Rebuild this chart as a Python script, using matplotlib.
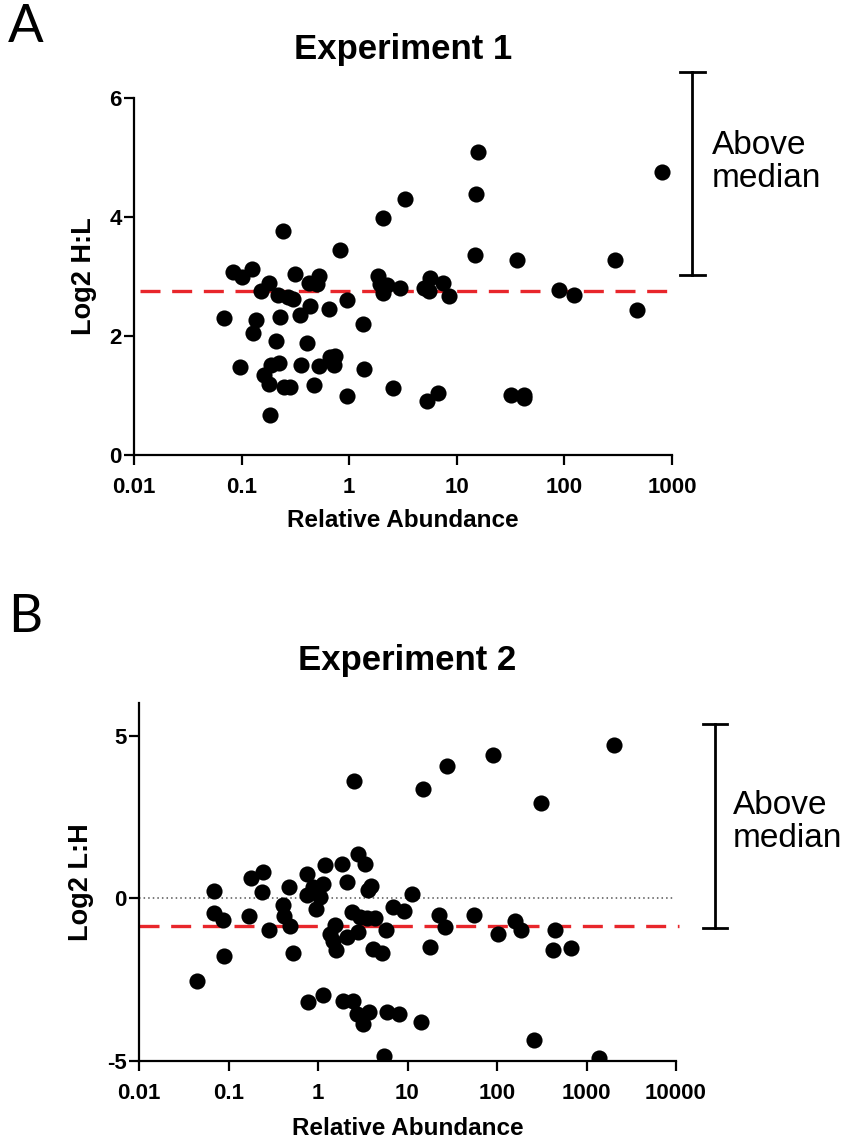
import matplotlib
matplotlib.use("Agg")
import matplotlib.pyplot as plt
from matplotlib.ticker import FixedLocator, FixedFormatter, NullLocator

plt.rcParams["axes.unicode_minus"] = False

# ---------------- data ----------------
exp1_abundance = [0.069, 0.084, 0.10, 0.126, 0.097, 0.136, 0.129, 0.152, 0.18, 0.16,
                  0.178, 0.187, 0.225, 0.184, 0.208, 0.242, 0.228, 0.22, 0.272, 0.303,
                  0.248, 0.283, 0.315, 0.35, 0.357, 0.434, 0.404, 0.466, 0.427, 0.52,
                  0.5, 0.525, 0.666, 0.74, 0.715, 0.656, 0.825, 0.95, 0.964, 1.33,
                  1.36, 2.08, 1.87, 1.95, 2.08, 2.25, 2.58, 3.31, 2.98, 5.3,
                  6.66, 5.0, 5.66, 5.5, 7.5, 8.4, 14.7, 15.1, 15.7, 31.6,
                  41.9, 41.9, 36.3, 89.8, 124, 294, 474, 811]
exp1_log2_hl = [2.30, 3.08, 2.99, 3.13, 1.48, 2.27, 2.05, 2.76, 2.89, 1.34,
                1.19, 1.51, 1.54, 0.67, 1.92, 3.76, 2.32, 2.69, 2.66, 2.63,
                1.14, 1.14, 3.05, 2.35, 1.51, 2.51, 1.89, 1.18, 2.89, 3.0,
                2.87, 1.50, 1.65, 1.66, 1.51, 2.45, 3.45, 2.60, 0.99, 2.21,
                1.45, 3.99, 3.0, 2.88, 2.72, 2.85, 1.12, 4.30, 2.80, 0.90,
                1.05, 2.80, 2.97, 2.75, 2.89, 2.67, 3.36, 4.38, 5.10, 1.01,
                1.01, 0.96, 3.28, 2.77, 2.69, 3.28, 2.44, 4.76]
exp1_median = 2.76

exp2_abundance = [0.044, 0.068, 0.069, 0.087, 0.09, 0.171, 0.18, 0.245, 0.239, 0.284,
                  0.41, 0.42, 0.474, 0.486, 0.53, 0.748, 0.78, 0.748, 0.887, 0.95,
                  1.05, 1.15, 1.2, 1.15, 1.36, 1.55, 1.48, 1.59, 1.84, 1.92,
                  2.09, 2.09, 2.38, 2.48, 2.54, 2.82, 3.35, 2.94, 2.82, 2.7,
                  3.2, 3.74, 3.65, 3.91, 3.5, 4.33, 4.15, 5.15, 5.75, 5.94,
                  5.46, 6.94, 8.0, 9.14, 11.1, 17.8, 22.6, 26.2, 15.0, 27.4,
                  14.2, 55.8, 89.5, 103, 159, 184, 261, 310, 445, 426,
                  671, 1390, 2050]
exp2_log2_lh = [-2.55, 0.22, -0.44, -0.68, -1.76, -0.56, 0.61, 0.81, 0.18, -0.99,
                -0.22, -0.56, 0.35, -0.85, -1.68, 0.76, -3.2, 0.09, 0.35, -0.32,
                0.04, 0.45, 1.02, -2.97, -1.09, -0.83, -1.30, -1.6, 1.04, -3.15,
                0.5, -1.19, -0.42, -3.15, 3.59, 1.36, 1.05, -0.58, -1.04, -3.56,
                -3.87, -3.5, 0.25, 0.38, -0.61, -0.6, -1.55, -1.69, -0.99, -3.48,
                -4.85, -0.27, -3.56, -0.39, 0.12, -1.50, -0.52, -0.88, 3.35, 4.07,
                -3.79, -0.52, 4.41, -1.09, -0.70, -0.96, -4.36, 2.94, -0.99, -1.58,
                -1.52, -4.9, 4.70]
exp2_median = -0.86

xticks1 = [0.01, 0.1, 1, 10, 100, 1000]
xticklabels1 = ["0.01", "0.1", "1", "10", "100", "1000"]
yticks1 = [0, 2, 4, 6]
xticks2 = [0.01, 0.1, 1, 10, 100, 1000, 10000]
xticklabels2 = ["0.01", "0.1", "1", "10", "100", "1000", "10000"]
yticks2 = [-5, 0, 5]

# ---------------- style ----------------
SANS = ["Liberation Sans", "DejaVu Sans"]
LETTER = ["Lato", "Open Sans", "DejaVu Sans"]
RED = "#e8262b"
W, H = 849, 1145

fig = plt.figure(figsize=(W / 100, H / 100), dpi=100)


def px_axes(left, top, right, bottom):
    return fig.add_axes([left / W, 1 - bottom / H, (right - left) / W, (bottom - top) / H])


def style(ax, xt, xtl, yt, xlab, ylab, xlabelpad):
    ax.set_xscale("log")
    ax.xaxis.set_major_locator(FixedLocator(xt))
    ax.xaxis.set_major_formatter(FixedFormatter(xtl))
    ax.xaxis.set_minor_locator(NullLocator())
    ax.set_yticks(yt)
    for s in ("top", "right"):
        ax.spines[s].set_visible(False)
    for s in ("left", "bottom"):
        ax.spines[s].set_linewidth(1.6)
    ax.tick_params(axis="both", direction="out", length=7, width=1.6)
    ax.tick_params(axis="x", pad=9)
    ax.tick_params(axis="y", pad=2)
    for lab in ax.get_xticklabels() + ax.get_yticklabels():
        lab.set_fontfamily(SANS)
        lab.set_fontweight("bold")
        lab.set_fontsize(16)
    ax.set_xlabel(xlab, fontfamily=SANS, fontweight="bold", fontsize=17.5, labelpad=xlabelpad)
    ax.set_ylabel(ylab, fontfamily=SANS, fontweight="bold", fontsize=19.5, labelpad=9)


# ---------- Panel A ----------
axA = px_axes(134, 98, 672, 455)
axA.scatter(exp1_abundance, exp1_log2_hl, s=135, color="black", zorder=3, linewidths=0)
axA.plot([0.0114, 1120], [exp1_median, exp1_median], color=RED, lw=2.4,
         dashes=(6, 3.5), clip_on=False, zorder=2)
axA.set_xlim(0.01, 1000)
axA.set_ylim(0, 6)
style(axA, xticks1, xticklabels1, yticks1, "Relative Abundance", "Log2 H:L", 8)
axA.set_title("Experiment 1", fontfamily=SANS, fontweight="bold", fontsize=25, pad=28)
# bracket
bx, cw = 1550, 10 ** 0.115
axA.plot([bx, bx], [3.02, 6.44], color="black", lw=2, clip_on=False)
axA.plot([bx / cw, bx * cw], [6.44, 6.44], color="black", lw=2, clip_on=False)
axA.plot([bx / cw, bx * cw], [3.02, 3.02], color="black", lw=2, clip_on=False)
fig.text(712 / W, 1 - 162 / H, "Above\nmedian", fontfamily=SANS, fontsize=24,
         ha="left", va="center", linespacing=1.12)
fig.text(8 / W, 1 - 4 / H, "A", fontfamily=LETTER, fontsize=38, ha="left", va="top")

# ---------- Panel B ----------
axB = px_axes(139, 703, 676, 1061)
axB.scatter(exp2_abundance, exp2_log2_lh, s=135, color="black", zorder=3, linewidths=0)
axB.plot([0.01, 9600], [0, 0], color="#555555", lw=1.1, ls=(0, (1, 2)), zorder=1)
axB.plot([0.01, 10700], [exp2_median, exp2_median], color=RED, lw=2.4,
         dashes=(6, 3.5), clip_on=False, zorder=2)
axB.set_xlim(0.01, 10000)
axB.set_ylim(-5, 6)
style(axB, xticks2, xticklabels2, yticks2, "Relative Abundance", "Log2 L:H", 9)
axB.set_title("Experiment 2", fontfamily=SANS, fontweight="bold", fontsize=25, pad=24)
bx2 = 27300
cw2 = 10 ** 0.135
axB.plot([bx2, bx2], [-0.9, 5.34], color="black", lw=2, clip_on=False)
axB.plot([bx2 / cw2, bx2 * cw2], [5.34, 5.34], color="black", lw=2, clip_on=False)
axB.plot([bx2 / cw2, bx2 * cw2], [-0.9, -0.9], color="black", lw=2, clip_on=False)
fig.text(733 / W, 1 - 822 / H, "Above\nmedian", fontfamily=SANS, fontsize=24,
         ha="left", va="center", linespacing=1.12)
fig.text(8 / W, 1 - 594 / H, "B", fontfamily=LETTER, fontsize=38, ha="left", va="top")

fig.savefig("out.png", dpi=100)
